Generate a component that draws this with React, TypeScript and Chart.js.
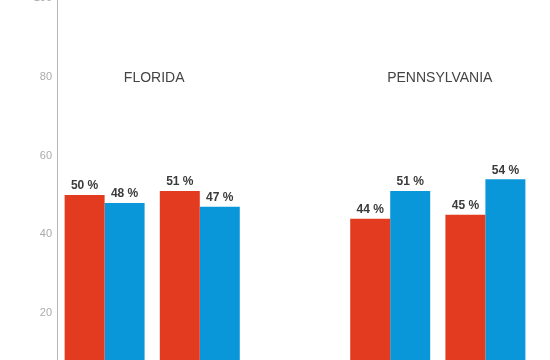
import React, { useEffect, useRef } from "react";
import { Chart, registerables } from "chart.js";

Chart.register(...registerables);

const categories = ["Florida 1", "Florida 2", "", "Pennsylvania 1", "Pennsylvania 2"];
const redValues = [50, 51, null, 44, 45];
const blueValues = [48, 47, null, 51, 54];
const groupLabels = ["FLORIDA", "PENNSYLVANIA"];
const groupStart = [0, 3];
const groupEnd = [1, 4];
const groupLabelValue = 80;
const yTicks = [0, 20, 40, 60, 80, 100];

const RED = "#e33b1f";
const BLUE = "#0a97d9";

const labelsPlugin = {
  id: "valueLabels",
  afterDatasetsDraw(chart: any) {
    const ctx = chart.ctx;
    ctx.save();
    ctx.font = "bold 12px 'Liberation Sans', Arial, sans-serif";
    ctx.fillStyle = "#3a3a3a";
    ctx.textAlign = "center";
    ctx.textBaseline = "bottom";
    chart.data.datasets.forEach((ds: any, di: number) => {
      const meta = chart.getDatasetMeta(di);
      meta.data.forEach((bar: any, i: number) => {
        const v = ds.data[i];
        if (v == null) return;
        ctx.fillText(`${v} %`, bar.x, bar.y - 3);
      });
    });
    const xs = chart.scales.x;
    const ys = chart.scales.y;
    ctx.font = "14px 'Liberation Sans', Arial, sans-serif";
    ctx.fillStyle = "#444";
    ctx.textBaseline = "middle";
    groupLabels.forEach((g, k) => {
      const x = (xs.getPixelForValue(groupStart[k]) + xs.getPixelForValue(groupEnd[k])) / 2 + 2;
      ctx.fillText(g, x, ys.getPixelForValue(groupLabelValue) + 1);
    });
    ctx.restore();
  },
};

function BarChart() {
  const ref = useRef<HTMLCanvasElement>(null);
  useEffect(() => {
    if (!ref.current) return;
    const chart = new Chart(ref.current, {
      type: "bar",
      data: {
        labels: categories,
        datasets: [
          { label: "Red", data: redValues, backgroundColor: RED, borderWidth: 0 },
          { label: "Blue", data: blueValues, backgroundColor: BLUE, borderWidth: 0 },
        ],
      },
      options: {
        animation: false,
        responsive: false,
        layout: { padding: { top: 0, bottom: 6, right: 17, left: 0 } },
        plugins: { legend: { display: false }, tooltip: { enabled: false } },
        datasets: { bar: { categoryPercentage: 0.84, barPercentage: 1.0 } },
        scales: {
          x: { display: false },
          y: {
            min: 0,
            max: 100,
            afterBuildTicks: (s: any) => {
              s.ticks = yTicks.map((v) => ({ value: v }));
            },
            afterFit: (s: any) => {
              s.width = 57;
              s.paddingTop = 0;
              s.paddingBottom = 0;
            },
            grid: { display: false, drawTicks: false },
            border: { display: true, color: "#b5b5b5", width: 1 },
            ticks: {
              padding: 5,
              color: "#aaaaaa",
              font: { family: "'Liberation Sans', Arial, sans-serif", size: 11 },
            },
          },
        },
      },
      plugins: [labelsPlugin],
    });
    return () => chart.destroy();
  }, []);
  return (
    <canvas
      ref={ref}
      width={550}
      height={400}
      style={{ display: "block", marginTop: -2 }}
    />
  );
}

export default function App() {
  return (
    <div
      style={{
        position: "fixed",
        top: 0,
        left: 0,
        width: 550,
        height: 360,
        overflow: "hidden",
        background: "#fff",
      }}
    >
      <BarChart />
    </div>
  );
}
